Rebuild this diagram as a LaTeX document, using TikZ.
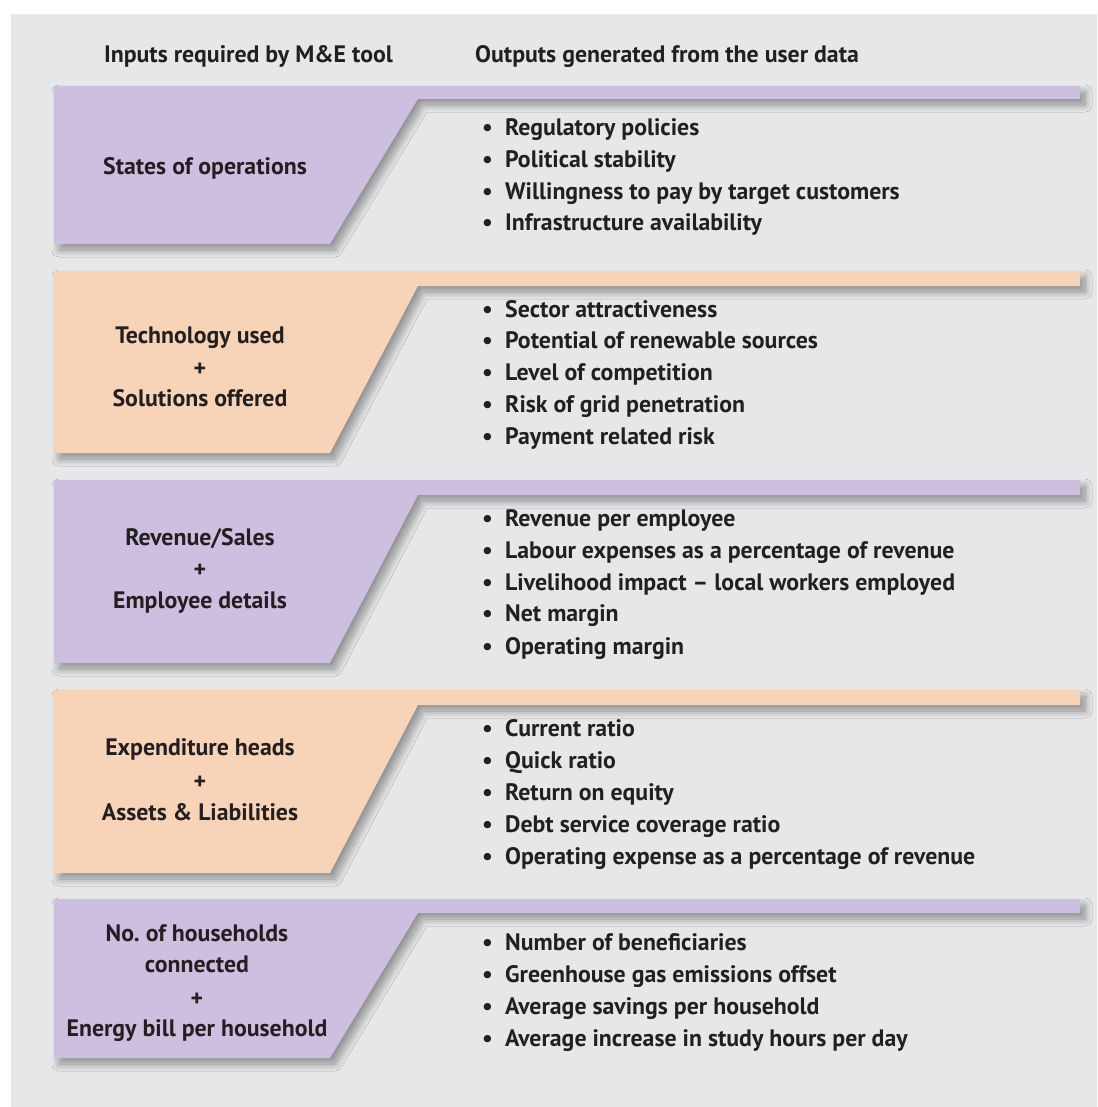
\documentclass[tikz,border=0pt]{standalone}
\usepackage{fontspec}
\setmainfont{PT Sans}
\usetikzlibrary{shadows.blur}
\definecolor{bg}{RGB}{230,231,232}
\definecolor{lav}{RGB}{205,191,223}
\definecolor{peach}{RGB}{247,212,184}
\definecolor{ink}{RGB}{35,31,32}
\frenchspacing
\tikzset{
 txt/.style={font=\fontsize{23.8}{28}\selectfont\bfseries, text=ink, inner sep=0pt},
 item/.style={txt, anchor=base west},
 lbl/.style={txt, anchor=base},
 panelshadow/.style={blur shadow={shadow xshift=5pt, shadow yshift=-6pt, shadow blur steps=16, shadow opacity=38, shadow blur radius=7pt}},
}
\newcommand\mypanel[4]{\path[fill=#1, panelshadow] (54,#2) -- (1080,#2) -- (1080,#3) -- (418,#3) -- (330,#4) -- (54,#4) -- cycle;}
\newcommand\bul{\makebox[23pt][l]{•}}
\begin{document}
\begin{tikzpicture}[x=1pt,y=-1pt]
\useasboundingbox (0,0) rectangle (1097,1107);
\fill[white] (0,0) rectangle (1097,1107);
\fill[bg] (11,14) rectangle (1097,1107);
% panels
\mypanel{lav}{86}{99}{244}
\mypanel{peach}{271}{286}{453}
\mypanel{lav}{480}{495}{663}
\mypanel{peach}{690}{705}{873}
\mypanel{lav}{899}{913}{1058}
% headers
\node[lbl] (hin) at (248.5,63) {Inputs required by M\&E tool};
\node[item] (hout) at (475,63) {Outputs generated from the user data};
% left labels
\node[lbl] (l1) at (205,175) {States of operations};
\node[lbl] (l2a) at (200,343) {Technology used};
\node[lbl] (l2b) at (200,376) {+};
\node[lbl] (l2c) at (200,406) {Solutions offered};
\node[lbl] (l3a) at (200,545) {Revenue/Sales};
\node[lbl] (l3b) at (200,577) {+};
\node[lbl] (l3c) at (200,608) {Employee details};
\node[lbl] (l4a) at (200,755) {Expenditure heads};
\node[lbl] (l4b) at (200,789) {+};
\node[lbl] (l4c) at (200,820) {Assets \& Liabilities};
\node[lbl] (l5a) at (197,941) {No.\ of households};
\node[lbl] (l5b) at (197,972) {connected};
\node[lbl] (l5c) at (197,1006) {+};
\node[lbl] (l5d) at (197,1036) {Energy bill per household};
% right items
\node[item] (r1a) at (482,136) {\bul Regulatory policies};
\node[item] (r1b) at (482,168) {\bul Political stability};
\node[item] (r1c) at (482,200) {\bul Willingness to pay by target customers};
\node[item] (r1d) at (482,231) {\bul Infrastructure availability};
\node[item] (r2a) at (482,317) {\bul Sector attractiveness};
\node[item] (r2b) at (482,348) {\bul Potential of renewable sources};
\node[item] (r2c) at (482,380) {\bul Level of competition};
\node[item] (r2d) at (482,412) {\bul Risk of grid penetration};
\node[item] (r2e) at (482,444) {\bul Payment related risk};
\node[item] (r3a) at (482,526) {\bul Revenue per employee};
\node[item] (r3b) at (482,558) {\bul Labour expenses as a percentage of revenue};
\node[item] (r3c) at (482,590) {\bul Livelihood impact – local workers employed};
\node[item] (r3d) at (482,621) {\bul Net margin};
\node[item] (r3e) at (482,654) {\bul Operating margin};
\node[item] (r4a) at (482,736) {\bul Current ratio};
\node[item] (r4b) at (482,768) {\bul Quick ratio};
\node[item] (r4c) at (482,800) {\bul Return on equity};
\node[item] (r4d) at (482,832) {\bul Debt service coverage ratio};
\node[item] (r4e) at (482,864) {\bul Operating expense as a percentage of revenue};
\node[item] (r5a) at (482,950) {\bul Number of beneficiaries};
\node[item] (r5b) at (482,982) {\bul Greenhouse gas emissions offset};
\node[item] (r5c) at (482,1014) {\bul Average savings per household};
\node[item] (r5d) at (482,1046) {\bul Average increase in study hours per day};
\end{tikzpicture}
\end{document}
